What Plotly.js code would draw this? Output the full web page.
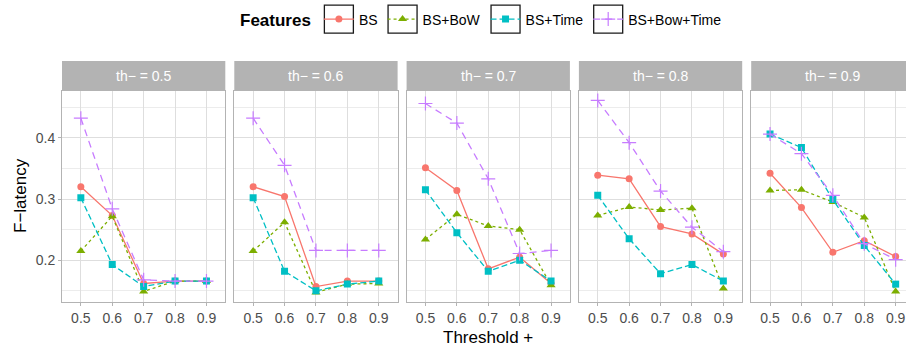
<!DOCTYPE html>
<html><head><meta charset="utf-8">
<script src="https://cdn.plot.ly/plotly-3.0.1.min.js"></script>
<style>html,body{margin:0;padding:0;background:#fff}</style>
</head><body><div id="chart" style="width:906px;height:350px"></div>
<script>
// ---- data ----
const thresholds = [0.5, 0.6, 0.7, 0.8, 0.9];
const tickLabels = ['0.5', '0.6', '0.7', '0.8', '0.9'];
const thMinus = ['0.5', '0.6', '0.7', '0.8', '0.9'];
const features = ['BS', 'BS+BoW', 'BS+Time', 'BS+Bow+Time'];
const yTickVals = [0.2, 0.3, 0.4];
const yTickText = ['0.2', '0.3', '0.4'];
// one row per th− panel, one value per threshold +
const BS = [
  [0.320, 0.273, 0.162, 0.166, 0.166],
  [0.320, 0.304, 0.157, 0.166, 0.166],
  [0.351, 0.314, 0.186, 0.205, 0.162],
  [0.339, 0.333, 0.255, 0.243, 0.210],
  [0.342, 0.286, 0.213, 0.232, 0.206]];
const BSBoW = [
  [0.215, 0.272, 0.149, 0.166, 0.166],
  [0.215, 0.262, 0.1475, 0.161, 0.162],
  [0.234, 0.275, 0.256, 0.250, 0.159],
  [0.273, 0.287, 0.282, 0.285, 0.154],
  [0.314, 0.315, 0.295, 0.270, 0.149]];
const BSTime = [
  [0.302, 0.193, 0.157, 0.166, 0.166],
  [0.302, 0.182, 0.150, 0.161, 0.166],
  [0.315, 0.245, 0.182, 0.200, 0.166],
  [0.306, 0.235, 0.178, 0.193, 0.166],
  [0.406, 0.384, 0.299, 0.224, 0.161]];
const BSBowTime = [
  [0.432, 0.284, 0.168, 0.166, 0.166],
  [0.432, 0.355, 0.216, 0.216, 0.216],
  [0.456, 0.424, 0.333, 0.211, 0.216],
  [0.461, 0.392, 0.313, 0.254, 0.214],
  [0.406, 0.374, 0.306, 0.227, 0.201]];
const series = [BS, BSBoW, BSTime, BSBowTime];

// ---- styles ----
const FONT = 'Liberation Sans, Arial, Helvetica, sans-serif';
const colors = ['#F8766D', '#7CAE00', '#00BFC4', '#C77CFF'];
const dashes = ['solid', '3px,3px', '6px,3px', '7px,5px'];
const symbols = ['circle', 'triangle-up', 'square', 'cross-thin'];
const msizes = [7, 8, 7, 10];

const L = 62, T = 61, B = 48, Wd = 906, Ht = 350;
const W = Wd - L, H = Ht - T - B;
const panelW = 163.3, panelStep = 172.3;
const stripTopPx = 61, panelTopPx = 91;
const yTop = 1 - (panelTopPx - T) / H;
const yRange = [0.1318, 0.4764];
const unitPx = panelW / 0.52;

const data = [];
const layout = {
  width: Wd, height: Ht,
  margin: {l: L, r: 0, t: T, b: B, pad: 0},
  paper_bgcolor: '#fff', plot_bgcolor: '#fff',
  font: {family: FONT, color: '#000'},
  showlegend: true,
  legend: {
    orientation: 'h', x: (238 - L) / W, xanchor: 'left',
    y: 1 + (T - 20) / H, yanchor: 'middle',
    bgcolor: 'rgba(0,0,0,0)', borderwidth: 0,
    font: {size: 14, family: FONT, color: '#000'},
    title: {text: '<b>Features</b>', side: 'left', font: {size: 17, family: FONT, color: '#000'}},
    traceorder: 'normal'
  },
  shapes: [], annotations: []
};

for (let p = 0; p < 5; p++) {
  const sfx = p === 0 ? '' : String(p + 1);
  const x0px = L + panelStep * p;
  let x1px = x0px + panelW;
  const xr0 = 0.5 - (thresholds[0] - 0.44) * 0;
  let range = [0.44, 0.96];
  if (x1px > Wd) { range = [0.44, 0.44 + (Wd - x0px) / unitPx]; x1px = Wd; }
  const dom = [(x0px - L) / W, Math.min(1, (x1px - L) / W)];
  layout['xaxis' + sfx] = {
    anchor: 'y' + sfx, domain: dom, range: range,
    tickmode: 'array', tickvals: thresholds, ticktext: tickLabels,
    showgrid: true, gridcolor: '#DEDEDE', gridwidth: 1, zeroline: false,
    showline: true, linecolor: '#B3B3B3', linewidth: 1, mirror: true,
    ticks: 'outside', ticklen: 3, tickcolor: '#B3B3B3', tickwidth: 1,
    tickfont: {size: 14, family: FONT, color: '#4D4D4D'}, fixedrange: true
  };
  layout['yaxis' + sfx] = {
    anchor: 'x' + sfx, domain: [0, yTop], range: yRange,
    tickmode: 'array', tickvals: yTickVals, ticktext: yTickText,
    showticklabels: p === 0, ticks: p === 0 ? 'outside' : '', ticklen: 3,
    tickcolor: '#B3B3B3', tickwidth: 1,
    showgrid: true, gridcolor: '#DEDEDE', gridwidth: 1, zeroline: false,
    minor: {tickmode: 'array', tickvals: [0.15, 0.25, 0.35, 0.45], showgrid: true, gridcolor: '#E4E4E4', gridwidth: 0.7, ticks: ''},
    showline: true, linecolor: '#B3B3B3', linewidth: 1, mirror: p < 4,
    tickfont: {size: 14, family: FONT, color: '#4D4D4D'}, fixedrange: true
  };
  // strip
  layout.shapes.push({type: 'rect', xref: 'paper', yref: 'paper', x0: dom[0], x1: dom[1],
    y0: yTop, y1: 1 - (stripTopPx - T) / H, fillcolor: '#B3B3B3', line: {width: 0}, layer: 'above'});
  layout.annotations.push({xref: 'paper', yref: 'paper', x: (x0px + panelW / 2 - L) / W,
    y: 1 - ((stripTopPx + panelTopPx) / 2 - T) / H, xanchor: 'center', yanchor: 'middle',
    text: 'th\u2212 = ' + thMinus[p], showarrow: false, font: {size: 14, family: FONT, color: '#FFFFFF'}});

  for (let s = 0; s < 4; s++) {
    data.push({
      type: 'scatter', mode: 'lines+markers', name: features[s], legendgroup: features[s],
      showlegend: p === 0, x: thresholds, y: series[s][p], xaxis: 'x' + sfx, yaxis: 'y' + sfx,
      line: {color: colors[s], width: 1.3, dash: dashes[s]},
      marker: {symbol: symbols[s], size: msizes[s], color: colors[s],
        line: {color: colors[s], width: s === 3 ? 1.2 : 0}},
      hoverinfo: 'skip'
    });
  }
}
// axis titles
layout.annotations.push({xref: 'paper', yref: 'paper', x: (488 - L) / W, y: 1 - (337 - T) / H,
  xanchor: 'center', yanchor: 'middle', text: 'Threshold +', showarrow: false,
  font: {size: 17, family: FONT, color: '#000'}});
layout.annotations.push({xref: 'paper', yref: 'paper', x: (20 - L) / W, y: 1 - (196 - T) / H,
  xanchor: 'center', yanchor: 'middle', text: 'F\u2212latency', textangle: -90, showarrow: false,
  font: {size: 17, family: FONT, color: '#000'}});

const gd = document.getElementById('chart');
Plotly.newPlot(gd, data, layout, {staticPlot: true, displayModeBar: false}).then(() => {
  const svgRect = gd.querySelector('.main-svg').getBoundingClientRect();
  const shapes = layout.shapes.slice();
  gd.querySelectorAll('.legend .traces').forEach(g => {
    const ln = g.querySelector('.legendlines path') || g.querySelector('.legendpoints path');
    if (!ln) return;
    const r = ln.getBoundingClientRect();
    const cx = (r.left + r.right) / 2 - svgRect.left;
    const cy = (r.top + r.bottom) / 2 - svgRect.top;
    shapes.push({type: 'rect', xref: 'paper', yref: 'paper',
      x0: (cx - 14.5 - L) / W, x1: (cx + 14.5 - L) / W,
      y0: 1 - (cy + 14 - T) / H, y1: 1 - (cy - 14 - T) / H,
      line: {color: '#1A1A1A', width: 1.3}, fillcolor: 'rgba(0,0,0,0)', layer: 'below'});
  });
  return Plotly.relayout(gd, {shapes: shapes});
});
</script>
</body></html>
